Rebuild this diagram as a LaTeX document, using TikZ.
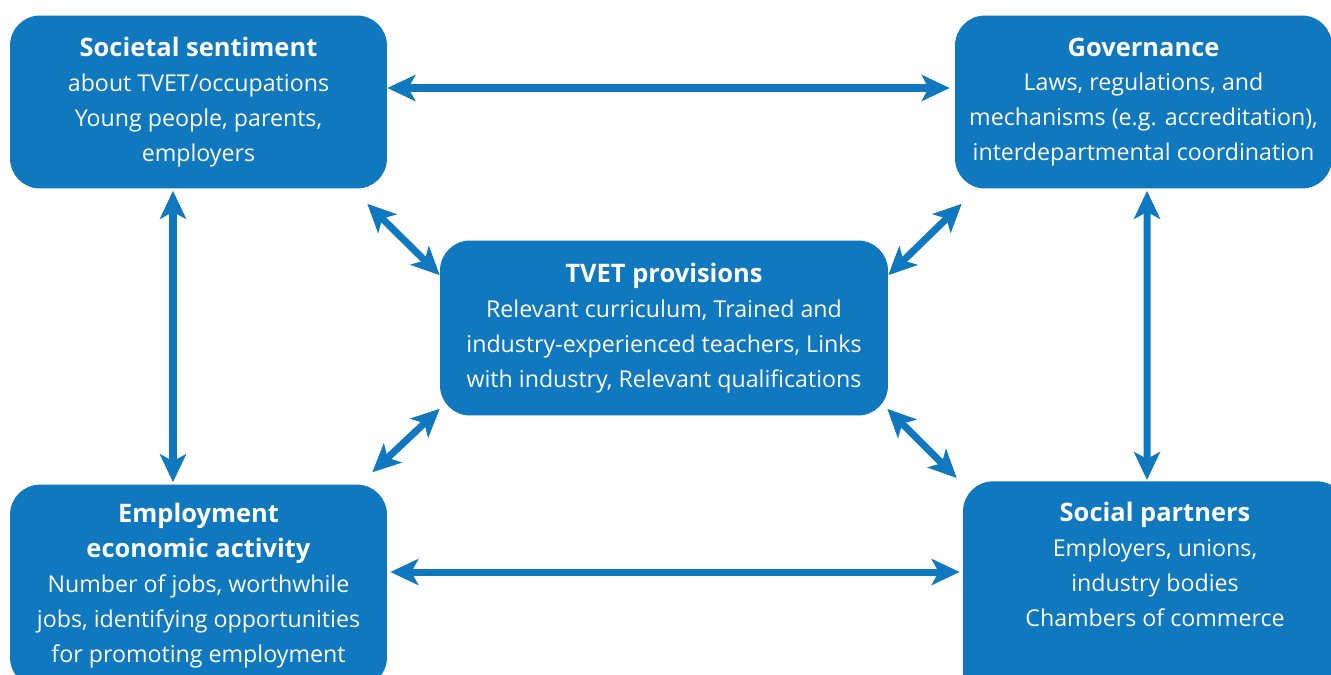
\documentclass[tikz,border=0pt]{standalone}
\usepackage{fontspec}
\setmainfont{Open Sans}
\usepackage{xcolor}
\usetikzlibrary{arrows.meta,calc}
\definecolor{tvetblue}{HTML}{0F78BF}
\newcommand{\boxtitle}[1]{{\fontsize{14.5}{19.9}\selectfont\bfseries #1}}

\begin{document}
\begin{tikzpicture}[
        x=0.02cm, y=-0.02cm,
        box/.style={
          fill=tvetblue,
          rounded corners=0.6cm,
          minimum width=7.54cm,
          align=center,
          text=white,
          font=\fontsize{13.2}{19.9}\selectfont,
          inner ysep=0.38cm
        },
        arrow/.style={
          {Stealth[length=5.6mm,width=5.2mm,inset=1.4mm]}-{Stealth[length=5.6mm,width=5.2mm,inset=1.4mm]},
          line width=4pt,
          tvetblue
        }
      ]

      \useasboundingbox (0,0) rectangle (1331,674);
      \clip (0,0) rectangle (1331,674);

      \node[box, minimum height=3.46cm] (soc) at (198.5,102) {
        \boxtitle{Societal sentiment}\\
        about TVET/occupations\\
        Young people, parents,\\
        employers
      };

      \node[box, minimum height=3.46cm] (gov) at (1143.5,102) {
        \boxtitle{Governance}\\
        Laws, regulations, and\\
        mechanisms (e.g. accreditation),\\
        interdepartmental coordination
      };

      \node[box, minimum width=8.96cm, minimum height=3.5cm] (tvet) at (664,328) {
        \boxtitle{TVET provisions}\\
        Relevant curriculum, Trained and\\
        industry-experienced teachers, Links\\
        with industry, Relevant qualifications
      };

      \node[box, minimum height=3.94cm] (emp) at (198.5,586) {
        \boxtitle{Employment}\\
        \boxtitle{economic activity}\\
        Number of jobs, worthwhile\\
        jobs, identifying opportunities\\
        for promoting employment
      };

      % runs past the lower edge, so the text sits high in it
      \node[box, anchor=north, minimum width=7.68cm, inner ysep=0.42cm, text depth=1.58cm] (partners) at (1155,481) {
        \boxtitle{Social partners}\\
        Employers, unions,\\
        industry bodies\\
        Chambers of commerce
      };

      % outer ring
      \draw[arrow] ($(soc.east)+(0,-14)$) -- ($(gov.west)+(-5,-14)$);
      \draw[arrow] ($(soc.south)+(-25.5,2)$) -- ($(emp.north)+(-25.5,-2)$);
      \draw[arrow] ($(gov.south)+(3.5,2)$) -- ($(partners.north)+(-8,-1)$);
      \draw[arrow] ($(emp.east)+(3,-14)$) -- ($(emp.east -| partners.west)+(-3,-14)$);

      % spokes to the centre
      \draw[arrow] ($(soc.south east)+(-20,15)$) -- ($(tvet.north west)+(0,35)$);
      \draw[arrow] ($(gov.south west)+(7,15)$) -- ($(tvet.north east)+(0,35)$);
      \draw[arrow] ($(emp.north east)+(-15,-12)$) -- ($(tvet.south west)+(0,-7)$);
      \draw[arrow] ($(partners.north west)+(-6,-3)$) -- ($(tvet.south east)+(-1,-7)$);

      \end{tikzpicture}
\end{document}
